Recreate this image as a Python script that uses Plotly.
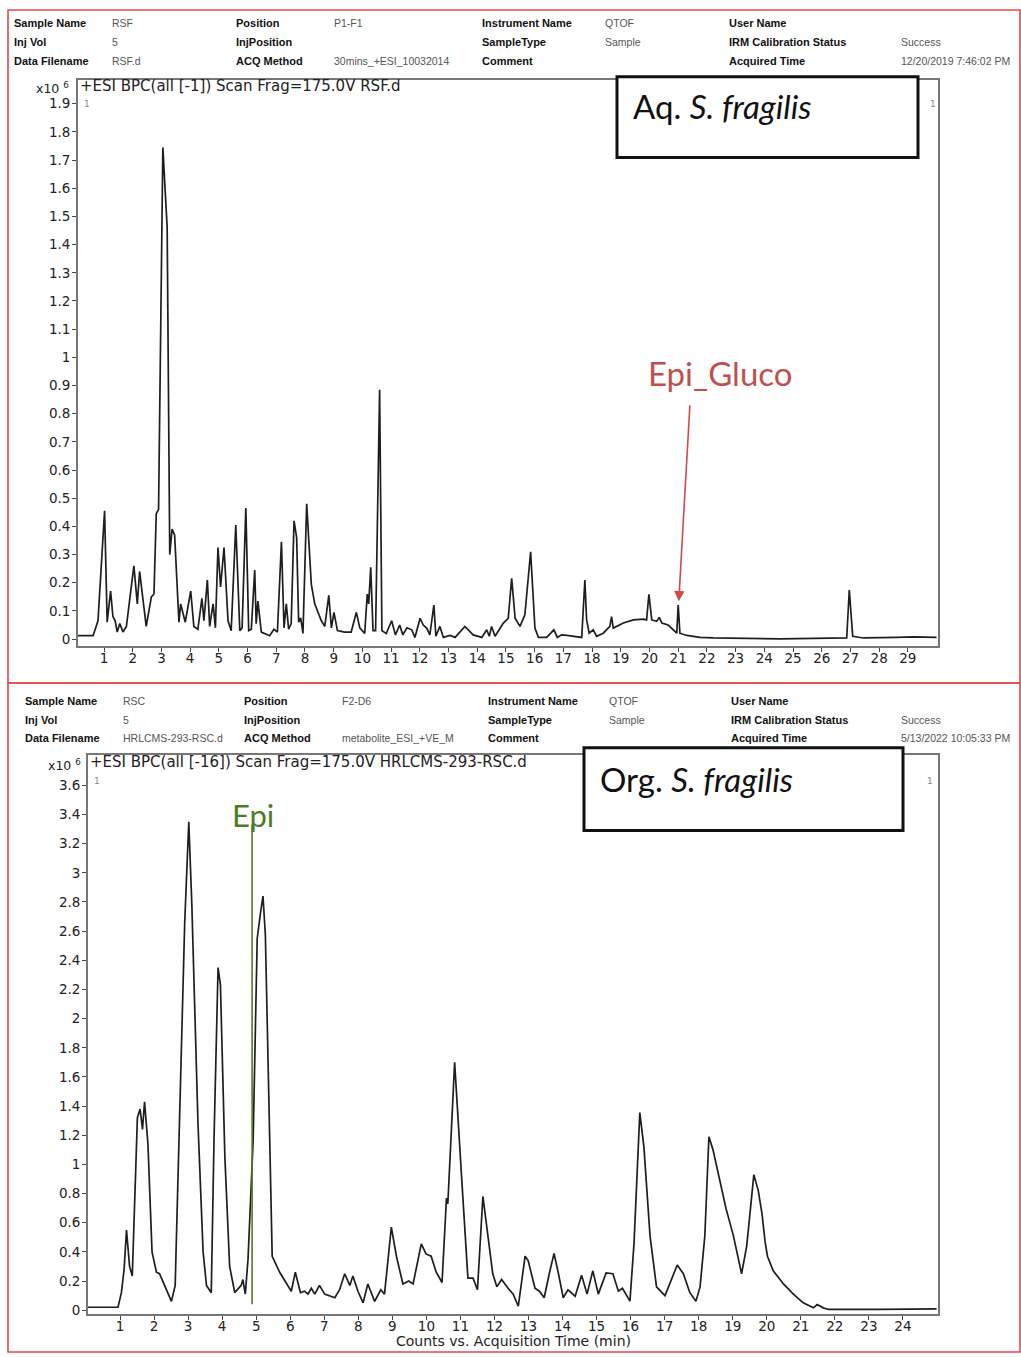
import plotly.graph_objects as go

W, H = 1021, 1357

# ---------------- data ----------------
# Aq. S. fragilis chromatogram: retention time (min) and BPC counts (x10^6)
aq_time = [0.09, 0.62, 0.79, 1.02, 1.11, 1.23, 1.31, 1.39, 1.46, 1.55, 1.66, 1.78, 2.04, 2.16, 2.24,
           2.47, 2.65, 2.74, 2.82, 2.90, 3.05, 3.20, 3.29, 3.37, 3.46, 3.61, 3.67, 3.83, 4.02, 4.13,
           4.27, 4.41, 4.48, 4.60, 4.68, 4.80, 4.88, 4.97, 5.06, 5.18, 5.32, 5.43, 5.59, 5.73, 5.81,
           5.94, 6.04, 6.13, 6.25, 6.30, 6.36, 6.48, 6.77, 6.92, 7.04, 7.18, 7.27, 7.35, 7.43, 7.52,
           7.62, 7.71, 7.78, 7.85, 7.93, 8.06, 8.22, 8.34, 8.57, 8.69, 8.83, 8.92, 9.01, 9.13, 9.38,
           9.61, 9.79, 9.91, 10.08, 10.17, 10.22, 10.29, 10.37, 10.46, 10.60, 10.68, 10.83, 11.02,
           11.15, 11.30, 11.41, 11.55, 11.72, 11.83, 12.01, 12.12, 12.24, 12.35, 12.49, 12.56, 12.70,
           12.82, 13.05, 13.23, 13.57, 13.86, 14.16, 14.33, 14.42, 14.50, 14.62, 14.91, 15.08, 15.20,
           15.32, 15.49, 15.66, 15.86, 16.01, 16.13, 16.42, 16.67, 16.79, 16.94, 17.12, 17.29, 17.64,
           17.75, 17.81, 17.90, 18.04, 18.16, 18.39, 18.62, 18.68, 18.74, 19.09, 19.44, 19.78, 19.90,
           19.98, 20.08, 20.25, 20.34, 20.43, 20.65, 20.83, 20.95, 21.00, 21.06, 21.30, 21.76, 22.22,
           23.39, 24.55, 26.87, 26.96, 27.08, 27.45, 28.61, 29.19, 30.00]
aq_counts = [0.012, 0.012, 0.065, 0.455, 0.06, 0.17, 0.08, 0.065, 0.025, 0.055, 0.025, 0.045, 0.26, 0.125, 0.24,
             0.045, 0.15, 0.16, 0.445, 0.46, 1.745, 1.46, 0.30, 0.39, 0.37, 0.06, 0.125, 0.06, 0.17, 0.045,
             0.035, 0.145, 0.065, 0.21, 0.045, 0.125, 0.04, 0.325, 0.185, 0.325, 0.065, 0.03, 0.405, 0.03, 0.04,
             0.465, 0.03, 0.035, 0.245, 0.055, 0.135, 0.025, 0.012, 0.035, 0.025, 0.345, 0.04, 0.125, 0.035, 0.055,
             0.42, 0.36, 0.06, 0.075, 0.02, 0.48, 0.195, 0.125, 0.065, 0.045, 0.155, 0.04, 0.095, 0.03, 0.025,
             0.025, 0.095, 0.04, 0.02, 0.16, 0.125, 0.255, 0.03, 0.03, 0.885, 0.03, 0.02, 0.065,
             0.015, 0.05, 0.015, 0.04, 0.033, 0.006, 0.074, 0.05, 0.039, 0.015, 0.121, 0.01, 0.045,
             0.006, 0.013, 0.006, 0.045, 0.015, 0.006, 0.033, 0.01, 0.045, 0.01, 0.057, 0.074, 0.216,
             0.074, 0.045, 0.086, 0.31, 0.039, 0.006, 0.006, 0.033, 0.006, 0.015, 0.013, 0.01, 0.006,
             0.21, 0.068, 0.021, 0.033, 0.01, 0.021, 0.045, 0.08, 0.039, 0.057, 0.068, 0.071, 0.068,
             0.159, 0.068, 0.063, 0.077, 0.057, 0.05, 0.033, 0.021, 0.121, 0.021, 0.013, 0.006, 0.004,
             0.002, 0.001, 0.004, 0.174, 0.01, 0.004, 0.006, 0.008, 0.006]

# Org. S. fragilis chromatogram
org_time = [0.06, 0.94, 1.04, 1.12, 1.19, 1.28, 1.36, 1.43, 1.51, 1.59, 1.66, 1.72, 1.82, 1.94, 2.07,
            2.16, 2.31, 2.51, 2.62, 2.75, 2.90, 3.02, 3.11, 3.29, 3.44, 3.54, 3.68, 3.76, 3.88, 3.95,
            4.08, 4.22, 4.37, 4.56, 4.61, 4.68, 4.76, 4.91, 5.03, 5.13, 5.20, 5.27, 5.40, 5.47, 5.69,
            5.93, 6.03, 6.15, 6.30, 6.42, 6.52, 6.62, 6.72, 6.86, 7.01, 7.31, 7.45, 7.60, 7.75, 7.84,
            7.99, 8.14, 8.28, 8.48, 8.66, 8.77, 8.97, 9.12, 9.31, 9.48, 9.61, 9.85, 9.99, 10.14, 10.29,
            10.46, 10.59, 10.63, 10.83, 11.03, 11.22, 11.37, 11.50, 11.66, 11.81, 11.95, 12.07, 12.21,
            12.40, 12.55, 12.70, 12.90, 12.99, 13.19, 13.32, 13.46, 13.61, 13.75, 13.88, 14.02, 14.16,
            14.37, 14.56, 14.72, 14.89, 15.05, 15.28, 15.48, 15.64, 15.76, 15.98, 16.10, 16.27, 16.39,
            16.57, 16.76, 17.01, 17.20, 17.37, 17.55, 17.74, 17.92, 18.04, 18.18, 18.30, 18.42, 18.60,
            18.80, 19.02, 19.26, 19.41, 19.62, 19.75, 19.86, 19.95, 20.02, 20.19, 20.49, 20.78, 21.07,
            21.37, 21.48, 21.66, 21.81, 23.33, 24.99]
org_counts = [0.02, 0.02, 0.12, 0.28, 0.55, 0.30, 0.235, 0.81, 1.32, 1.38, 1.24, 1.43, 1.14, 0.40, 0.26,
              0.25, 0.17, 0.06, 0.17, 1.28, 2.66, 3.35, 2.78, 1.28, 0.40, 0.17, 0.12, 1.16, 2.35, 2.23,
              1.05, 0.30, 0.12, 0.17, 0.21, 0.11, 0.35, 1.16, 2.55, 2.73, 2.84, 2.57, 1.28, 0.37, 0.26,
              0.17, 0.13, 0.26, 0.12, 0.13, 0.11, 0.15, 0.11, 0.17, 0.11, 0.085, 0.14, 0.25, 0.17, 0.235,
              0.13, 0.05, 0.18, 0.06, 0.14, 0.11, 0.57, 0.37, 0.18, 0.20, 0.18, 0.455, 0.386, 0.37, 0.26,
              0.19, 0.77, 0.73, 1.70, 0.93, 0.22, 0.22, 0.14, 0.78, 0.51, 0.25, 0.16, 0.21,
              0.15, 0.11, 0.027, 0.37, 0.34, 0.15, 0.13, 0.085, 0.25, 0.39, 0.25, 0.085, 0.14,
              0.096, 0.24, 0.11, 0.27, 0.11, 0.255, 0.25, 0.13, 0.15, 0.062, 0.46, 1.355, 1.12,
              0.51, 0.16, 0.10, 0.21, 0.31, 0.25, 0.12, 0.062, 0.16, 0.51, 1.19, 1.10, 0.90,
              0.70, 0.51, 0.25, 0.44, 0.93, 0.82, 0.66, 0.47, 0.37, 0.27, 0.18, 0.11, 0.05,
              0.016, 0.039, 0.016, 0.005, 0.005, 0.009]

aq_xticks = list(range(1, 30))
aq_yticks = [0, 0.1, 0.2, 0.3, 0.4, 0.5, 0.6, 0.7, 0.8, 0.9, 1, 1.1, 1.2, 1.3, 1.4, 1.5, 1.6, 1.7, 1.8, 1.9]
aq_ylabels = ["0", "0.1", "0.2", "0.3", "0.4", "0.5", "0.6", "0.7", "0.8", "0.9", "1", "1.1", "1.2",
              "1.3", "1.4", "1.5", "1.6", "1.7", "1.8", "1.9"]
org_xticks = list(range(1, 25))
org_yticks = [0, 0.2, 0.4, 0.6, 0.8, 1, 1.2, 1.4, 1.6, 1.8, 2, 2.2, 2.4, 2.6, 2.8, 3, 3.2, 3.4, 3.6]
org_ylabels = ["0", "0.2", "0.4", "0.6", "0.8", "1", "1.2", "1.4", "1.6", "1.8", "2", "2.2", "2.4",
               "2.6", "2.8", "3", "3.2", "3.4", "3.6"]

epi_gluco_time, epi_gluco_counts = 21.02, 0.134
epi_time = 4.88

aq_header = [("Sample Name", "RSF"), ("Inj Vol", "5"), ("Data Filename", "RSF.d"),
             ("Position", "P1-F1"), ("InjPosition", ""), ("ACQ Method", "30mins_+ESI_10032014"),
             ("Instrument Name", "QTOF"), ("SampleType", "Sample"), ("Comment", ""),
             ("User Name", ""), ("IRM Calibration Status", "Success"), ("Acquired Time", "12/20/2019 7:46:02 PM")]
org_header = [("Sample Name", "RSC"), ("Inj Vol", "5"), ("Data Filename", "HRLCMS-293-RSC.d"),
              ("Position", "F2-D6"), ("InjPosition", ""), ("ACQ Method", "metabolite_ESI_+VE_M"),
              ("Instrument Name", "QTOF"), ("SampleType", "Sample"), ("Comment", ""),
              ("User Name", ""), ("IRM Calibration Status", "Success"), ("Acquired Time", "5/13/2022 10:05:33 PM")]


def PX(x):
    return x / W


def PY(y):
    return 1 - y / H


fig = go.Figure()
fig.add_trace(go.Scatter(x=aq_time, y=aq_counts, mode="lines", xaxis="x", yaxis="y",
                         line=dict(color="#1e1e1e", width=1.7), showlegend=False, hoverinfo="skip"))
fig.add_trace(go.Scatter(x=org_time, y=org_counts, mode="lines", xaxis="x2", yaxis="y2",
                         line=dict(color="#1e1e1e", width=1.7), showlegend=False, hoverinfo="skip"))

tickfont = dict(family="DejaVu Sans", size=13.5, color="#222")
axis_common = dict(showgrid=False, zeroline=False, showline=True, mirror=True, linecolor="#777",
                   linewidth=1.8, ticks="outside", ticklen=4, tickcolor="#444", tickfont=tickfont)

fig.update_layout(
    width=W, height=H, margin=dict(l=0, r=0, t=0, b=0), autosize=False,
    paper_bgcolor="white", plot_bgcolor="white",
    xaxis=dict(domain=[PX(78), PX(938)], range=[0.094, 30.05], tickvals=aq_xticks,
               anchor="y", ticklabelstandoff=-5, **axis_common),
    yaxis=dict(domain=[PY(648), PY(80)], range=[-0.0248, 1.985], tickvals=aq_yticks,
               ticktext=aq_ylabels, anchor="x", ticklabelstandoff=-1, **axis_common),
    xaxis2=dict(domain=[PX(88), PX(938)], range=[0.059, 25.03], tickvals=org_xticks,
                anchor="y2", ticklabelstandoff=-5, **axis_common),
    yaxis2=dict(domain=[PY(1318), PY(757)], range=[-0.027, 3.81], tickvals=org_yticks,
                ticktext=org_ylabels, anchor="x2", ticklabelstandoff=-1, **axis_common),
)

shapes = []
annotations = []

# red panel frames
for (x0, y0, x1, y1) in [(8, 10, 1020, 685), (8, 685, 1020, 1356)]:
    shapes.append(dict(type="rect", xref="paper", yref="paper", x0=PX(x0), x1=PX(x1),
                       y0=PY(y1), y1=PY(y0), line=dict(color="#e5484d", width=1.6),
                       fillcolor="rgba(0,0,0,0)", layer="above"))


def header(items, lab_x, val_x, rows_y):
    for i, (lab, val) in enumerate(items):
        col, row = divmod(i, 3)
        annotations.append(dict(xref="paper", yref="paper", x=PX(lab_x[col]), y=PY(rows_y[row]),
                                text="<b>" + lab + "</b>", showarrow=False, xanchor="left",
                                yanchor="middle", font=dict(family="Liberation Sans", size=11,
                                                            color="#111")))
        if val:
            annotations.append(dict(xref="paper", yref="paper", x=PX(val_x[col]), y=PY(rows_y[row]),
                                    text=val, showarrow=False, xanchor="left", yanchor="middle",
                                    font=dict(family="Liberation Sans", size=10.5, color="#555")))


header(aq_header, [12, 234, 480, 727], [110, 332, 603, 899], [23, 42, 61])
header(org_header, [23, 242, 486, 729], [121, 340, 607, 899], [703, 722, 740])


def txt(x, y, s, size=13, color="#222", family="DejaVu Sans", xanchor="left", yanchor="middle"):
    annotations.append(dict(xref="paper", yref="paper", x=PX(x), y=PY(y), text=s, showarrow=False,
                            xanchor=xanchor, yanchor=yanchor, font=dict(family=family, size=size,
                                                                         color=color)))


txt(78, 86, "+ESI BPC(all [-1]) Scan Frag=175.0V RSF.d", size=15)
txt(88, 764, "+ESI BPC(all [-16]) Scan Frag=175.0V HRLCMS-293-RSC.d", size=15)
txt(71, 88, "x10 <sup>6</sup>", size=12.5, xanchor="right")
txt(83, 767, "x10 <sup>6</sup>", size=12.5, xanchor="right")
txt(82, 104, "1", size=9, color="#888")
txt(933, 104, "1", size=9, color="#888", xanchor="center")
txt(92, 783, "1", size=9, color="#888")
txt(930, 783, "1", size=9, color="#888", xanchor="center")
txt(513, 1345, "Counts vs. Acquisition Time (min)", size=14, xanchor="center")

# label boxes
for (x0, y0, x1, y1) in [(617, 77, 918, 158), (584, 750, 903, 833)]:
    shapes.append(dict(type="rect", xref="paper", yref="paper", x0=PX(x0), x1=PX(x1),
                       y0=PY(y1), y1=PY(y0), line=dict(color="#111", width=3),
                       fillcolor="white", layer="above"))
txt(631, 106, "Aq. <i>S. fragilis</i>", size=33, color="#111", family="Lato")
txt(598, 781, "Org. <i>S. fragilis</i>", size=33, color="#111", family="Lato")

# Epi_Gluco arrow + label (top chart, data coordinates)
annotations.append(dict(xref="x", yref="y", x=epi_gluco_time, y=epi_gluco_counts,
                        axref="x", ayref="y", ax=21.41, ay=0.835, text="", showarrow=True,
                        arrowhead=2, arrowsize=1.3, arrowwidth=1.6, arrowcolor="#d04a4a"))
annotations.append(dict(xref="x", yref="y", x=22.46, y=0.945, text="Epi_Gluco", showarrow=False,
                        xanchor="center", yanchor="middle",
                        font=dict(family="Lato", size=33, color="#c0504d")))

# Epi marker (bottom chart)
shapes.append(dict(type="line", xref="x2", yref="y2", x0=epi_time, x1=epi_time, y0=0.04, y1=3.33,
                   line=dict(color="#4f7a28", width=1.6)))
annotations.append(dict(xref="x2", yref="y2", x=epi_time + 0.03, y=3.40, text="Epi", showarrow=False,
                        xanchor="center", yanchor="middle",
                        font=dict(family="Lato", size=31, color="#4f7a28")))

fig.update_layout(shapes=shapes, annotations=annotations)
fig.write_html("out.html")
